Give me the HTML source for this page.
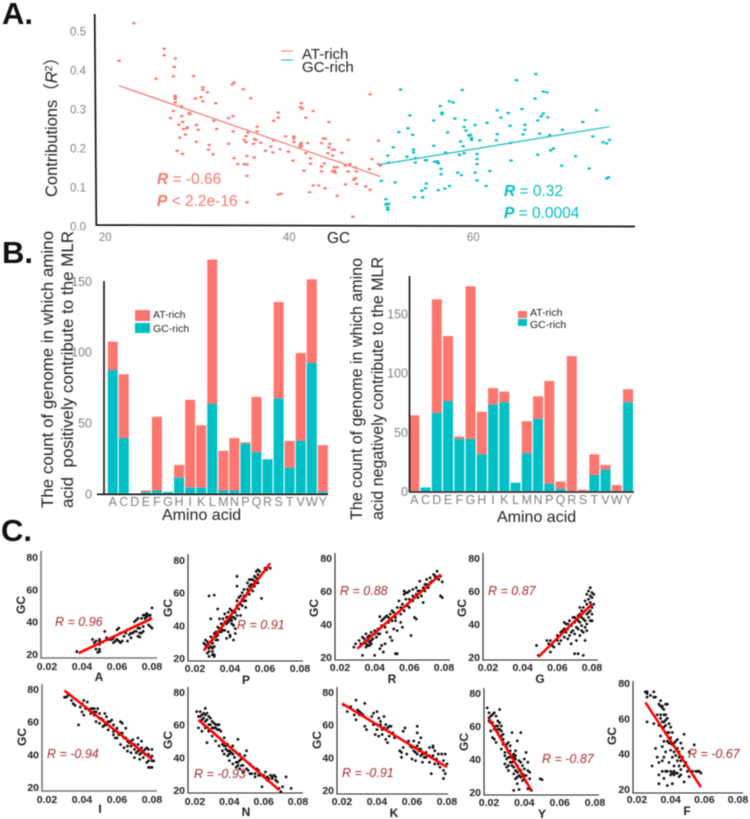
<!DOCTYPE html>
<html>
<head>
<meta charset="utf-8">
<title>GC content and amino acid contributions</title>
<style>
html,body{margin:0;padding:0;background:#fff;width:750px;height:819px;overflow:hidden}
svg{display:block;filter:blur(0.4px)}
text{font-family:"Liberation Sans","Noto Sans CJK SC",sans-serif}
</style>
</head>
<body>
<svg id="figure" xmlns="http://www.w3.org/2000/svg" width="750" height="819" viewBox="0 0 750 819">
<text x="2" y="24" font-size="31" font-weight="bold" fill="#111">A.</text>
<text x="2" y="263" font-size="31" font-weight="bold" fill="#111">B.</text>
<text x="1" y="541" font-size="31" font-weight="bold" fill="#111">C.</text>

<text transform="translate(57,197) rotate(-90)" font-size="16.5" fill="#222">Contributions（<tspan font-style="italic">R</tspan><tspan font-size="10.5" dy="-5">2</tspan><tspan dy="5">）</tspan></text>
<text x="327" y="243" font-size="15.5" fill="#222">GC</text>

<line x1="281" y1="51" x2="293" y2="51" stroke="#F8766D" stroke-width="1"/>
<line x1="281" y1="60" x2="293" y2="60" stroke="#00BFC4" stroke-width="1"/>
<text x="302" y="59" font-size="15" fill="#222">AT-rich</text>
<text x="302" y="72" font-size="15" fill="#222">GC-rich</text>

<text x="157" y="184" font-size="15.5" fill="#F8766D"><tspan font-weight="bold" font-style="italic">R</tspan> = -0.66</text>
<text x="157" y="206" font-size="15.5" fill="#F8766D"><tspan font-weight="bold" font-style="italic">P</tspan> &lt; 2.2e-16</text>
<text x="504" y="196" font-size="15.5" fill="#00BFC4"><tspan font-weight="bold" font-style="italic">R</tspan> = 0.32</text>
<text x="504" y="218" font-size="15.5" fill="#00BFC4"><tspan font-weight="bold" font-style="italic">P</tspan> = 0.0004</text>

<text transform="translate(53,508) rotate(-90)" font-size="16.5" textLength="277" lengthAdjust="spacingAndGlyphs" fill="#222">The count of genome in which amino</text>
<text transform="translate(73,508) rotate(-90)" font-size="16.5" textLength="277" lengthAdjust="spacingAndGlyphs" xml:space="preserve" fill="#222">acid  positively contribute to the MLR</text>
<text x="162" y="520" font-size="16" fill="#222">Amino acid</text>
<rect x="135" y="310" width="15" height="11" fill="#F8766D"/>
<rect x="135" y="323" width="15" height="10" fill="#00BFC4"/>
<text x="153" y="318" font-size="10.5" fill="#222">AT-rich</text>
<text x="153" y="332" font-size="10.5" fill="#222">GC-rich</text>

<text transform="translate(362,520) rotate(-90)" font-size="16.5" textLength="262" lengthAdjust="spacingAndGlyphs" fill="#222">The count of genome in which amino</text>
<text transform="translate(383,520) rotate(-90)" font-size="16.5" textLength="263" lengthAdjust="spacingAndGlyphs" fill="#222">acid negatively contribute to the MLR</text>
<text x="497" y="522" font-size="16" fill="#222">Amino acid</text>
<rect x="518" y="311" width="9" height="7" fill="#F8766D"/>
<rect x="518" y="319" width="9" height="7" fill="#00BFC4"/>
<text x="530" y="316" font-size="10.5" fill="#222">AT-rich</text>
<text x="530" y="328" font-size="10.5" fill="#222">GC-rich</text>
</svg>

<script>
// ---------- Panel A values ----------
const contribXTicks = [20, 40, 60];
const contribYTicks = [0, 0.1, 0.2, 0.3, 0.4, 0.5];
const atGc = [21.5,23.1,25.5,26.4,26.4,27.6,27.5,27.4,27.6,27.6,27.6,27.6,27.4,27.1,28.3,28.3,28.4,28.0,28.5,28.9,28.9,28.1,28.7,27.8,28.4,29.1,29.2,29.8,30.4,30.6,30.6,31.1,30.6,32.0,31.8,32.1,29.6,29.9,30.1,29.9,31.3,31.2,31.7,33.4,33.9,33.8,34.0,35.0,35.8,33.9,33.4,34.0,34.4,35.1,35.4,35.4,35.4,36.2,35.3,35.5,35.1,35.3,35.4,36.5,36.5,36.2,36.4,36.1,36.9,37.4,38.0,38.2,38.3,38.8,38.8,38.3,39.0,39.6,39.9,40.4,38.8,39.1,40.5,40.5,40.5,41.2,41.3,41.4,41.3,41.2,41.3,41.2,41.8,42.0,42.6,41.8,41.6,42.3,42.3,42.2,42.6,43.2,43.9,43.5,43.7,43.9,44.3,43.5,43.8,43.5,44.2,44.4,44.3,44.7,44.9,44.7,45.7,44.7,44.9,45.0,44.9,45.2,45.2,46.4,46.1,46.6,46.4,46.1,46.9,47.2,47.3,47.2,47.0,47.3,48.3,48.7,48.8,48.8,49.0,49.7,49.7,49.9];
const atR2 = [.425,.521,.379,.456,.439,.431,.409,.385,.335,.331,.327,.318,.296,.278,.308,.283,.268,.261,.250,.254,.252,.228,.236,.194,.186,.291,.288,.328,.332,.357,.350,.344,.321,.316,.271,.250,.386,.260,.248,.217,.209,.197,.185,.278,.283,.364,.369,.352,.329,.244,.212,.175,.160,.160,.159,.130,.181,.177,.232,.241,.222,.216,.062,.256,.244,.224,.222,.212,.215,.194,.205,.190,.271,.279,.292,.221,.198,.231,.192,.169,.082,.084,.231,.226,.217,.306,.316,.302,.214,.210,.206,.204,.188,.214,.296,.279,.143,.175,.161,.088,.105,.105,.098,.214,.226,.225,.268,.154,.162,.141,.188,.212,.203,.197,.197,.182,.189,.141,.143,.138,.152,.152,.079,.222,.156,.160,.141,.108,.025,.151,.141,.124,.120,.109,.103,.147,.094,.339,.173,.220,.160,.156];
const gcGc = [50.0,51.5,50.7,51.3,50.8,51.9,52.1,52.9,53.1,53.4,53.5,53.5,52.8,53.7,53.7,54.9,54.8,55.7,55.7,56.4,56.6,56.6,57.4,57.8,58.0,57.2,57.0,55.8,56.1,56.2,56.5,56.5,54.9,54.8,54.4,53.6,54.5,56.2,56.9,57.4,50.5,50.6,50.5,50.8,50.7,50.7,58.8,59.1,59.0,59.2,60.2,59.5,59.7,59.8,59.8,60.7,58.6,58.9,58.5,59.0,60.4,60.4,60.4,60.2,58.3,58.7,60.4,61.8,61.4,61.5,62.6,63.0,63.8,62.6,62.5,64.0,64.0,64.1,64.7,65.3,65.6,65.6,65.4,66.8,66.7,67.6,68.0,67.6,67.4,68.1,67.0,67.2,68.3,67.0,68.7,68.4,69.7,69.6,71.1,71.9,73.4,73.0,72.6,74.1,74.5,74.8,74.5,74.7];
const gcR2 = [.117,.113,.182,.203,.164,.242,.351,.252,.285,.235,.197,.190,.179,.175,.164,.170,.170,.207,.272,.309,.292,.288,.321,.318,.277,.241,.190,.166,.167,.162,.148,.134,.110,.098,.092,.075,.075,.093,.097,.104,.070,.058,.056,.058,.049,.043,.350,.273,.255,.246,.260,.233,.235,.227,.222,.221,.218,.206,.184,.188,.186,.173,.160,.138,.138,.132,.118,.142,.104,.266,.298,.279,.291,.237,.221,.258,.214,.169,.375,.301,.261,.248,.236,.391,.328,.346,.344,.290,.283,.280,.272,.238,.234,.184,.200,.195,.248,.156,.180,.268,.298,.231,.149,.216,.213,.222,.123,.126];
const atTrendX = [21.5, 49.9];
const atTrendY = [.361, .128];
const gcTrendX = [49.9, 74.8];
const gcTrendY = [.159, .256];

// ---------- Panel B values ----------
const aminoAcids = ['A','C','D','E','F','G','H','I','K','L','M','N','P','Q','R','S','T','V','W','Y'];
const posTicks = [0, 50, 100, 150];
const posGc = [87,39,0,1,2,1,11,4,4,63,2,2,35,29,24,67,18,37,92,1];
const posAt = [20,45,0,1,52,0,9,62,44,102,28,37,1,39,0,68,19,62,59,33];
const negTicks = [0, 50, 100, 150];
const negGc = [0,3,66,76,44,44,31,73,75,7,32,61,6,2,0,0,13.5,18,0,75];
const negAt = [64,0,96,55,2,129,36,14,9,0,27,19,87,6,114,1,17.5,4,5,11];

// ---------- Panel C values ----------
const cXTicks = [0.02, 0.04, 0.06, 0.08];
const cYTicks = [20, 40, 60, 80];

const aX = [.037,.048,.049,.05,.05,.046,.047,.048,.05,.05,.052,.053,.054,.056,.057,.058,.059,.06,.061,.06,.061,.062,.063,.064,.066,.066,.067,.068,.068,.069,.07,.07,.071,.071,.072,.072,.073,.073,.074,.074,.075,.076,.076,.077,.077,.078,.079,.079,.08,.08,.079,.078,.072,.073,.074,.075,.062,.065,.07,.072,.075,.076,.078,.058,.055,.05,.047,.068];
const aY = [21.5,23,21,21.5,23,29,27,28,26,28,27.5,34,30,29,29,30,28,29,28,35,36,27,28,31,28,35,32,36,30,33,40,37,41,34,31,38,30.5,36,42,39,34,44,40,43,45,41,42,44,48.5,36,37,38,42,33,33,44,33,33,34,36,37,42,44,27,29,29,25,33];
const aLineX = [.038, .08];
const aLineY = [20.5, 42];

const pX = [.025,.026,.026,.027,.027,.028,.028,.029,.029,.03,.03,.03,.031,.031,.032,.032,.033,.033,.034,.034,.035,.035,.036,.036,.037,.037,.038,.038,.039,.039,.04,.04,.041,.041,.042,.042,.043,.043,.044,.044,.045,.045,.046,.046,.047,.047,.048,.048,.049,.049,.05,.05,.051,.051,.052,.052,.053,.053,.054,.054,.055,.055,.056,.057,.058,.06,.061,.063,.028,.031,.029,.033,.044,.039,.04,.027,.03,.031,.026,.027,.028,.029,.03,.031,.032,.033,.034,.035,.036,.037,.038,.039,.04,.041,.042,.043,.044,.045,.046,.047,.048,.049,.05,.051,.052,.053,.054,.055,.056,.056,.028,.03,.04,.041,.042,.043,.044];
const pY = [29,28,31,27,30,21,26,30,33,24,29,31,22,35,31,36,39,34,44,36,38,41,44,40,47,37,45,32,48,42,50,34,49,43,45,40,48,38,52,55,50,57,46,53,60,56,55,62,58,51,60,66,64,59,63,68,61,65,67,70,69,73,66,73,56.5,75,74,75,58,58.5,44,50,70,36,33,23,22,21,26,28,29,27,26,27,33,31,38,36,37,42,41,45,44,45,48,44,46,53,58,52,58,55,62,68,65,68,64,66,71,74,24,22,43,41,31,35,64];
const pLineX = [.025, .063];
const pLineY = [24.5, 78];

const rX = [.028,.029,.031,.032,.033,.033,.034,.035,.035,.036,.036,.037,.037,.038,.038,.039,.04,.04,.041,.042,.043,.043,.043,.044,.044,.045,.045,.046,.046,.047,.047,.048,.049,.049,.05,.05,.051,.051,.052,.052,.053,.053,.053,.054,.055,.055,.056,.056,.057,.057,.058,.059,.059,.06,.06,.061,.062,.062,.063,.064,.064,.064,.065,.066,.066,.067,.068,.069,.069,.07,.071,.072,.073,.074,.075,.076,.077,.078,.078,.079,.079,.036,.037,.038,.04,.042,.044,.046,.048,.05,.052,.055,.057,.058,.06,.062,.065,.068,.07,.072,.075,.034,.035];
const rY = [26,28,30,28,21,32,29,28,34,30,27,29,33,28,35,31,21,36,32,37,25,44.5,34,27,39,23,43,28,38,45,35,41,32,46,30,42,47,37,22,44,22,36,50,54,46,41,38,52,60,48,55,59,51,50,55,33,61,54,44,43,62,58,56,66,60,57,53,64,60,67,62,68,66,70,68,72,67,69,57,65.5,56,32,27,30,34,34,42,44,44,48,42,50,58,59,60,57,60,62,64,65,69,31,26];
const rLineX = [.03, .078];
const rLineY = [25, 70];

const gX = [.048,.049,.054,.055,.056,.056,.057,.058,.06,.061,.062,.063,.064,.064,.065,.065,.066,.066,.067,.067,.068,.068,.069,.069,.07,.07,.07,.071,.071,.071,.072,.072,.072,.073,.073,.073,.074,.074,.075,.075,.075,.075,.076,.076,.076,.076,.077,.077,.077,.077,.078,.078,.078,.078,.079,.079,.079,.079,.08,.08,.08,.08,.081,.081,.073,.074,.075,.076,.077,.078,.079,.08,.068,.07,.072,.074,.066,.064,.062,.06];
const gY = [27,21,30,28,23,30,27,26,30,28,35,36,41,32,40,35,31,37,33,42,39,28,44,36,41,22,34,43,38,30,45,37,22,46,41,33,44,39,50,47,35,21,48,42,54,30,52,46,40,58,55,50,44,60,57,48,53,62,56,50,59,46,52,58,50,48,43,38,36,47,42,42,35,44,42,36,40,37,30,33];
const gLineX = [.049, .08];
const gLineY = [20, 52];

const iX = [.03,.031,.032,.034,.035,.036,.038,.039,.04,.04,.041,.041,.042,.043,.044,.045,.046,.047,.047,.048,.048,.049,.05,.05,.051,.052,.053,.053,.054,.055,.055,.056,.057,.058,.058,.059,.06,.06,.061,.062,.062,.063,.063,.064,.065,.065,.066,.066,.067,.068,.068,.069,.07,.07,.071,.072,.072,.073,.073,.074,.074,.075,.075,.076,.077,.078,.078,.079,.079,.08,.08,.08,.078,.077,.081,.045,.047,.05,.052,.054,.056,.058,.06,.062,.064,.066,.068,.07,.072,.074,.076,.078,.08];
const iY = [75,75,76,73,71,70,58,69,66,71,73,64,68,72,67,65,68,64,68,60,66,68,59,65,62,61,65,58,63,60,55,57,61,54,58,50,56,50,52,60,46,59,53,44,56,50,48,42,47,45,41,49,43,38,41,50,46,40,37,48,44,42,38,40,44,40,36,38,32,43,36,32,32,35,36,68,66,62,57,58,60,52,54,53,50,45,48,46,42,41,43,43,39];
const iLineX = [.03, .08];
const iLineY = [79, 37];

const nX = [.021,.022,.022,.023,.023,.024,.024,.025,.025,.026,.026,.026,.027,.027,.028,.028,.029,.03,.03,.031,.031,.032,.032,.033,.033,.034,.034,.035,.036,.036,.037,.037,.038,.039,.039,.04,.04,.041,.042,.042,.043,.044,.044,.045,.045,.046,.046,.047,.048,.049,.05,.051,.052,.053,.054,.055,.056,.057,.058,.059,.06,.061,.062,.063,.064,.065,.066,.067,.068,.069,.07,.071,.073,.076,.023,.024,.025,.026,.027,.028,.029,.03,.031,.032,.033,.034,.035,.036,.037,.038,.039,.04,.041,.042,.043,.044,.045,.046,.047,.048,.05,.052,.055,.057,.06,.062,.065,.067];
const nY = [68,65,58,68,62,66,56,64,60,70,66,58,49,63,60,56,64,58,53,61,55,58,50,60,53,57,47,51,44,50,42,47,45,41,48,44,38,43,47,36,40,34,43,51,37,33,42,39,35,41,44,32,36,30,34,28,33,32,29,22,28,31,28,27,29,27,29,28,25,21,19,22,28,21,65,63,67,62,67,65,60,62,58,60,57,60,56,48,52,47,44,42,46,42,44,37,35,38,35,31,33,30,30,29,29,26,28,26];
const nLineX = [.022, .069];
const nLineY = [63, 20];

const kX = [.021,.023,.025,.027,.028,.028,.029,.03,.031,.032,.033,.033,.034,.037,.038,.038,.039,.04,.04,.041,.041,.042,.043,.043,.044,.045,.045,.046,.047,.047,.048,.049,.05,.053,.054,.054,.055,.055,.056,.057,.058,.059,.06,.061,.061,.062,.062,.063,.063,.063,.064,.064,.065,.065,.066,.067,.068,.07,.07,.071,.072,.072,.073,.073,.074,.075,.076,.077,.078,.078,.079,.079,.08,.078,.03,.04,.042,.044,.046,.06,.062,.064,.066,.068,.07,.072,.075,.063,.065];
const kY = [72,68,71,66,75,63,69,66,67,66,59,73,57,65,67,60,54,68,60,53,64,62,57,54,65,60,51,49,53,59,59,55,52,44,43,40,56,46,58,42,50,47,39,44,50,46,38,59,42,55,49,44,52,41,37,40,43,46,37,30,47,41,44,36,39,36,34,42,27,38,30,42,36,32,68,57,60,58,58,46,43,45,42,40,41,46,42,47,45];
const kLineX = [.02, .08];
const kLineY = [73, 34];

const yX = [.019,.02,.02,.021,.021,.022,.022,.023,.023,.024,.024,.025,.025,.026,.026,.027,.027,.028,.028,.029,.029,.03,.03,.03,.031,.031,.031,.032,.032,.033,.033,.034,.034,.034,.035,.035,.036,.036,.036,.037,.037,.038,.038,.039,.039,.04,.04,.041,.041,.042,.042,.043,.043,.044,.049,.05,.035,.034,.037,.02,.021,.022,.023,.024,.025,.025,.026,.027,.027,.028,.029,.03,.031,.032,.032,.033,.033,.034,.035,.036,.037,.038,.039,.04,.041,.042,.043,.036,.035,.038,.031];
const yY = [71,68,65,66,57,62,53,68,52,60,50,63,56,70,58,60,46,55,49,37,42,47,40,35,44,50,36,41,45,38,56,43,35,31,40,28,32,25,51,39,30,33,56,27,36,40,30,44,26,38,22,32,28,21,28,27.5,45,21,21.5,63,62,67,58,66,60,58,62,54,57,52,44,49,41,48,38,42,36,41,33,29,34,29,31,34,30,33,22,36,42,38,33];
const yLineX = [.02, .044];
const yLineY = [64.5, 21];

const fX = [.025,.026,.026,.026,.028,.029,.03,.03,.031,.031,.032,.032,.033,.033,.033,.033,.033,.034,.034,.034,.035,.035,.035,.036,.036,.036,.036,.037,.037,.037,.037,.038,.038,.038,.038,.039,.039,.039,.04,.04,.04,.041,.041,.041,.042,.042,.042,.043,.043,.044,.044,.045,.045,.046,.046,.047,.048,.048,.049,.05,.051,.051,.053,.054,.054,.055,.056,.057,.058,.026,.03,.04,.045,.041,.034,.034,.035,.036,.037,.035,.036,.037,.038,.039,.04,.041,.042,.043,.044,.045,.046,.047,.048,.04,.042,.044,.046,.043,.038,.036,.035];
const fY = [75,74,72,58,73,33,75,72,72,43,62,38,68,56,35,28,23,70,60,50,67,44,36,65,55,47,26,62,59,41,30,68,52,30,22,57,46,35,49,42,28,52,38,29,46,33,28,43,29,48,36,41,27,46,31,38,51,24,35,30,41,27,30,45,27,30,30,30,29,75,57,55,33,23,67,62,66,62,68,58,58,56,60,52,46,45,41,39,43,38,36,43,33,30,30,29,28,47,47,38,30];
const fLineX = [.025, .058];
const fLineY = [69, 21];

// ---------- Drawing ----------
const svg = document.getElementById('figure');
const NS = 'http://www.w3.org/2000/svg';
function make(tag, attrs, parent) {
  const el = document.createElementNS(NS, tag);
  for (const k in attrs) el.setAttribute(k, attrs[k]);
  (parent || svg).appendChild(el);
  return el;
}
function label(str, attrs, parent) {
  const el = make('text', attrs, parent);
  el.textContent = str;
  return el;
}

function drawContributions() {
  const sx = v => 105.3 + (v - 20) * 9.2;
  const sy = v => 226.5 - v * 390;
  const axis = make('path', {d: 'M94.7 14 L96.3 225 L635 226.5', fill: 'none', stroke: '#111', 'stroke-width': 1.7});
  
  
  contribYTicks.forEach(t => {
    const tick = label(t.toFixed(1), {x: 86, y: sy(t) + 4, 'font-size': 11.5, fill: '#808080', 'text-anchor': 'end'});
    
    
  });
  contribXTicks.forEach(t => {
    const tick = label(String(t), {x: sx(t), y: 241, 'font-size': 11.5, fill: '#808080', 'text-anchor': 'middle'});
    
    
  });
  atGc.forEach((g, i) => {
    const dot = make('ellipse', {cx: sx(g), cy: sy(atR2[i]), rx: 1.8, ry: 1.2, fill: '#F8766D'});
    
    
  });
  gcGc.forEach((g, i) => {
    const dot = make('ellipse', {cx: sx(g), cy: sy(gcR2[i]), rx: 1.8, ry: 1.2, fill: '#00BFC4'});
    
    
  });
  const atLine = make('line', {x1: sx(atTrendX[0]), y1: sy(atTrendY[0]), x2: sx(atTrendX[1]), y2: sy(atTrendY[1]), stroke: '#F8766D', 'stroke-width': 1.2});
  
  
  const gcLine = make('line', {x1: sx(gcTrendX[0]), y1: sy(gcTrendY[0]), x2: sx(gcTrendX[1]), y2: sy(gcTrendY[1]), stroke: '#1BB9BE', 'stroke-width': 1.2});
  
  
}

function drawBars(prefix, gcVals, atVals, ticks, g) {
  const sx = i => g.x0 + i * g.step;
  const sy = v => g.base - v * g.unit;
  aminoAcids.forEach((a, i) => {
    const gcH = gcVals[i] * g.unit;
    const atH = atVals[i] * g.unit;
    if (atH > 0) {
      const atBar = make('rect', {x: sx(i) - 5, y: sy(gcVals[i] + atVals[i]), width: 10, height: atH, fill: '#FD766F'});
      
      
    }
    if (gcH > 0) {
      const gcBar = make('rect', {x: sx(i) - 5, y: sy(gcVals[i]), width: 10, height: gcH, fill: '#00C0C6'});
      
      
    }
    const tick = label(a, {x: sx(i), y: g.labelY, 'font-size': 12.5, fill: '#808080', 'text-anchor': 'middle'});
    
    
  });
  ticks.forEach(t => {
    const tick = label(String(t), {x: g.tickX, y: sy(t) + 5, 'font-size': 12.5, fill: '#808080', 'text-anchor': 'end'});
    
    
  });
  const axis = make('path', {d: 'M' + g.axisX + ' ' + g.top + ' V' + (g.base + 1.5) + ' M' + g.xStart + ' ' + (g.base + 1) + ' H' + g.xEnd, fill: 'none', stroke: '#111', 'stroke-width': 1.6});
  
  
}

function drawPanel(name, xs, ys, lineX, lineY, rText, g) {
  const sx = v => g.x02 + (v - 0.02) / 0.06 * (g.x08 - g.x02);
  const sy = v => g.y20 - (v - 20) / 60 * (g.y20 - g.y80);
  const n = Math.min(xs.length, ys.length);
  for (let i = 0; i < n; i++) {
    const dot = make('circle', {cx: sx(xs[i]), cy: sy(ys[i]), r: 1.4, fill: '#111'});
    
    
  }
  const fit = make('line', {x1: sx(lineX[0]), y1: sy(lineY[0]), x2: sx(lineX[1]), y2: sy(lineY[1]), stroke: '#FF0000', 'stroke-width': 2.5});
  
  
  const axis = make('path', {d: 'M' + g.left + ' ' + g.top + ' V' + g.bottom + ' H' + g.right, fill: 'none', stroke: g.heavy ? '#777' : '#222', 'stroke-width': g.heavy ? 1.6 : 1.1});
  
  
  cXTicks.forEach(t => {
    const tick = label(t.toFixed(2), {x: sx(t), y: g.tickY, 'font-size': 10.5, 'font-weight': 'bold', fill: '#222', 'text-anchor': 'middle'});
    
    
  });
  cYTicks.forEach(t => {
    const tick = label(String(t), {x: g.left - 3, y: sy(t) + 4, 'font-size': 10.5, 'font-weight': 'bold', fill: '#222', 'text-anchor': 'end'});
    
    
  });
  const xt = label(name, {x: g.nameX, y: g.nameY, 'font-size': 12, 'font-weight': 'bold', fill: '#222', 'text-anchor': 'middle'});
  
  
  const yt = label('GC', {transform: 'translate(' + (g.gcX + 4) + ',' + g.gcY + ') rotate(-90)', 'font-size': 12, 'font-weight': 'bold', fill: '#222', 'text-anchor': 'middle'});
  
  
  const rv = label(rText, {x: g.rX, y: g.rY, 'font-size': 12.5, 'font-style': 'italic', fill: '#A52A2A'});
  
  
}

drawContributions();
drawBars('positive', posGc, posAt, posTicks, {x0: 112.7, step: 11.06, base: 493.3, unit: 1.417, labelY: 506, tickX: 92, axisX: 104, top: 281, xStart: 97, xEnd: 328});
drawBars('negative', negGc, negAt, negTicks, {x0: 414.3, step: 11.25, base: 491, unit: 1.183, labelY: 504, tickX: 408, axisX: 409.5, top: 276, xStart: 409, xEnd: 634});

drawPanel('A', aX, aY, aLineX, aLineY, 'R = 0.96', {x02: 47, x08: 152, y80: 557, y20: 654, left: 41, top: 551, bottom: 658, right: 157, tickY: 670, nameX: 99, nameY: 681, gcX: 21, gcY: 605, rX: 55, rY: 626, heavy: true});
drawPanel('P', pX, pY, pLineX, pLineY, 'R = 0.91', {x02: 195, x08: 300, y80: 560, y20: 658, left: 188, top: 554, bottom: 661, right: 303, tickY: 672, nameX: 246, nameY: 684, gcX: 168, gcY: 608, rX: 237, rY: 629});
drawPanel('R', rX, rY, rLineX, rLineY, 'R = 0.88', {x02: 340, x08: 444, y80: 558, y20: 657, left: 335, top: 553, bottom: 660, right: 450, tickY: 671, nameX: 392, nameY: 683, gcX: 314, gcY: 608, rX: 340, rY: 595});
drawPanel('G', gX, gY, gLineX, gLineY, 'R = 0.87', {x02: 488, x08: 592, y80: 558, y20: 657, left: 483, top: 553, bottom: 660, right: 598, tickY: 671, nameX: 540, nameY: 683, gcX: 462, gcY: 608, rX: 488, rY: 595});
drawPanel('I', iX, iY, iLineX, iLineY, 'R = -0.94', {x02: 47, x08: 152, y80: 689, y20: 787, left: 42, top: 684, bottom: 791, right: 157, tickY: 803, nameX: 100, nameY: 813, gcX: 22, gcY: 737, rX: 47, rY: 758, heavy: true});
drawPanel('N', nX, nY, nLineX, nLineY, 'R = -0.93', {x02: 195, x08: 298, y80: 692, y20: 790, left: 188, top: 687, bottom: 793, right: 303, tickY: 805, nameX: 246, nameY: 816, gcX: 168, gcY: 740, rX: 194, rY: 778});
drawPanel('K', kX, kY, kLineX, kLineY, 'R = -0.91', {x02: 342, x08: 447, y80: 692, y20: 790, left: 337, top: 687, bottom: 794, right: 448, tickY: 805, nameX: 394, nameY: 817, gcX: 317, gcY: 740, rX: 342, rY: 777});
drawPanel('Y', yX, yY, yLineX, yLineY, 'R = -0.87', {x02: 489, x08: 595, y80: 693, y20: 792, left: 484, top: 688, bottom: 795, right: 599, tickY: 806, nameX: 542, nameY: 818, gcX: 464, gcY: 742, rX: 542, rY: 763});
drawPanel('F', fX, fY, fLineX, fLineY, 'R = -0.67', {x02: 637, x08: 738, y80: 683, y20: 789, left: 633, top: 681, bottom: 793, right: 743, tickY: 803, nameX: 687, nameY: 815, gcX: 612, gcY: 736, rX: 688, rY: 758});
</script>
</body>
</html>
